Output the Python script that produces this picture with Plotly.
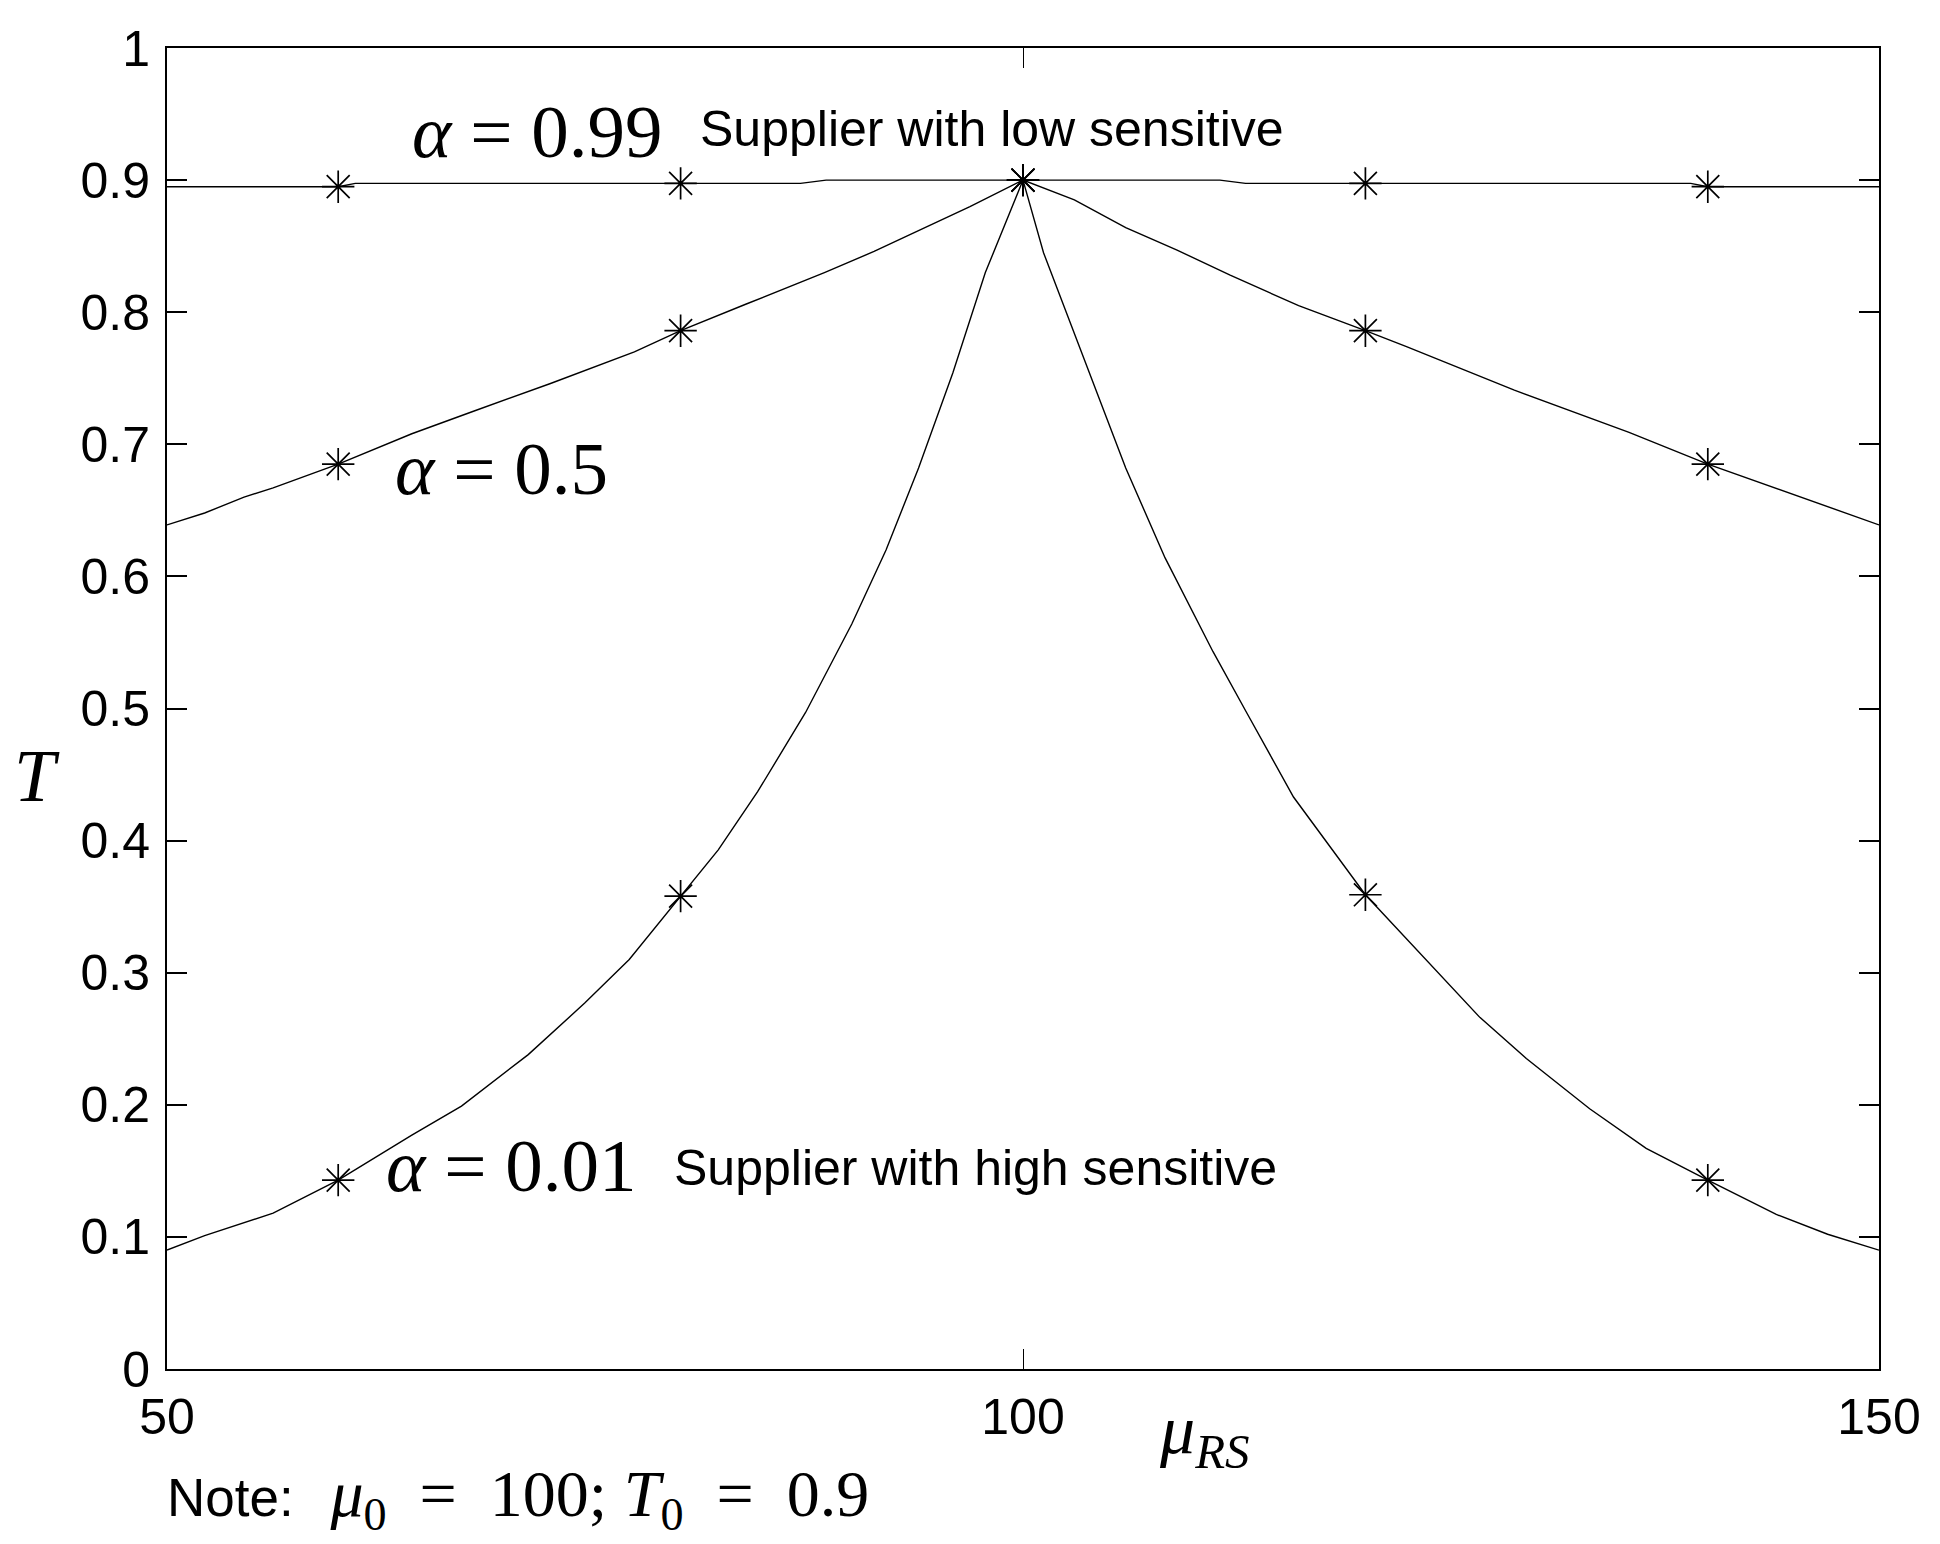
import plotly.graph_objects as go

# readings of T against mu_RS for each alpha
low_x = [50, 52.2, 56.2, 60, 64.3, 67.2, 71.1, 74.4, 77, 80, 82.2, 84.5, 87.3, 90,
         92, 93.9, 95.9, 97.8, 100, 101.2, 103.8, 106, 108.3, 111.1, 113.1, 115.8,
         120, 123.4, 126.7, 129.4, 133.1, 136.4, 140, 144, 147, 150]
low_T = [0.090, 0.101, 0.118, 0.143, 0.177, 0.199, 0.238, 0.277, 0.310, 0.358, 0.393,
         0.437, 0.497, 0.564, 0.620, 0.682, 0.754, 0.830, 0.900, 0.845, 0.757, 0.682,
         0.614, 0.543, 0.496, 0.433, 0.359, 0.312, 0.266, 0.235, 0.197, 0.167, 0.143,
         0.117, 0.102, 0.090]

mid_x = [50, 52.2, 54.5, 56.2, 60, 64.3, 67.9, 72.4, 77.3, 80, 83.8, 88.4, 91.3, 94.3,
         96.9, 100, 103, 106, 109, 112.1, 116.1, 120, 122.4, 128.7, 135.4, 140, 145.7, 150]
mid_T = [0.639, 0.648, 0.660, 0.667, 0.685, 0.708, 0.725, 0.746, 0.770, 0.786, 0.806,
         0.830, 0.846, 0.864, 0.880, 0.900, 0.885, 0.864, 0.847, 0.828, 0.805, 0.786,
         0.774, 0.741, 0.709, 0.685, 0.659, 0.639]

high_x = [50, 60, 61, 80, 87, 88.5, 100, 111.5, 113, 120, 139, 140, 150]
high_T = [0.895, 0.895, 0.8975, 0.8975, 0.8975, 0.900, 0.900, 0.900, 0.8975, 0.8975,
          0.8975, 0.895, 0.895]

# asterisk markers
mark_x = [60, 80, 100, 120, 140]
mark_low = [0.143, 0.358, 0.900, 0.359, 0.143]
mark_mid = [0.685, 0.786, 0.900, 0.786, 0.685]
mark_high = [0.895, 0.8975, 0.900, 0.8975, 0.895]

y_ticks = [0, 0.1, 0.2, 0.3, 0.4, 0.5, 0.6, 0.7, 0.8, 0.9, 1]
y_tick_text = ['0', '0.1', '0.2', '0.3', '0.4', '0.5', '0.6', '0.7', '0.8', '0.9', '1']
x_ticks = [50, 100, 150]

SANS = 'Liberation Sans, Arial, sans-serif'
SERIF = 'Liberation Serif, Times New Roman, serif'

fig = go.Figure()
for xs, ys in [(high_x, high_T), (mid_x, mid_T), (low_x, low_T)]:
    fig.add_trace(go.Scatter(x=xs, y=ys, mode='lines',
                             line=dict(color='black', width=1.4), showlegend=False))
for ys in [mark_high, mark_mid, mark_low]:
    fig.add_trace(go.Scatter(x=mark_x, y=ys, mode='markers', showlegend=False,
                             marker=dict(symbol='asterisk-open', size=27, color='black',
                                         line=dict(color='black', width=1.7))))

alpha_font = dict(family=SERIF, size=75, color='black')
label_font = dict(family=SANS, size=50, color='black')
annotations = [
    dict(x=64.2, y=0.937, text='<i>α</i> = 0.99', font=alpha_font),
    dict(x=81.0, y=0.939, text='Supplier with low sensitive', font=label_font),
    dict(x=63.2, y=0.682, text='<i>α</i> = 0.5', font=alpha_font),
    dict(x=62.7, y=0.154, text='<i>α</i> = 0.01', font=alpha_font),
    dict(x=79.5, y=0.152, text='Supplier with high sensitive', font=label_font),
]
for a in annotations:
    fig.add_annotation(xref='x', yref='y', xanchor='left', yanchor='middle',
                       showarrow=False, **a)

# axis labels and note, placed outside the plot area
fig.add_annotation(xref='paper', yref='paper', x=-0.076, y=0.449, xanchor='center',
                   yanchor='middle', showarrow=False, text='<i>T</i>',
                   font=dict(family=SERIF, size=74, color='black'))
fig.add_annotation(xref='paper', yref='paper', x=0.606, y=-0.050, xanchor='center',
                   yanchor='middle', showarrow=False, text='<i>μ<sub>RS</sub></i>',
                   font=dict(family=SERIF, size=70, color='black'))
fig.add_annotation(xref='paper', yref='paper', x=-0.001, y=-0.098, xanchor='left',
                   yanchor='middle', showarrow=False,
                   text='<span style="font-size:53px">Note:</span>  '
                        '<span style="font-family:Liberation Serif">'
                        '<i>μ</i><sub>0</sub>  =  100; <i>T</i><sub>0</sub>  =  0.9</span>',
                   font=dict(family=SANS, size=66, color='black'))

axis_common = dict(showline=True, linecolor='black', linewidth=2, mirror='allticks',
                   ticks='inside', ticklen=20, tickcolor='black', showgrid=False,
                   zeroline=False, tickfont=dict(family=SANS, size=50, color='black'))
fig.update_xaxes(range=[50, 150], tickvals=x_ticks, tickwidth=1,
                 ticklabelstandoff=3, **axis_common)
fig.update_yaxes(range=[0, 1], tickvals=y_ticks, ticktext=y_tick_text, tickwidth=2,
                 ticklabelstandoff=5, **axis_common)

# the page body adds 8px, so margins are shifted to keep the frame in place
fig.update_layout(width=1940, height=1544, plot_bgcolor='white', paper_bgcolor='white',
                  margin=dict(l=159, r=69, t=38, b=183))

fig.write_html("out.html")
